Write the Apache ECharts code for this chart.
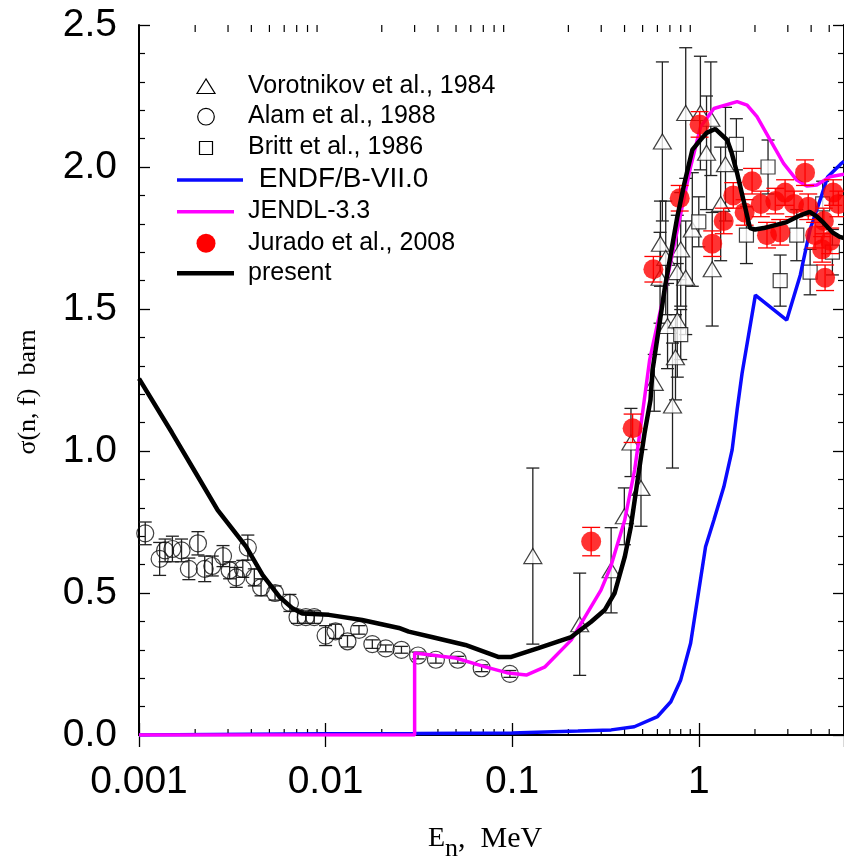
<!DOCTYPE html>
<html><head><meta charset="utf-8">
<script src="https://cdn.jsdelivr.net/npm/echarts@6.0.0/dist/echarts.min.js"></script>
<style>html,body{margin:0;padding:0;background:#fff}#c{width:844px;height:864px}</style>
</head><body><div id="c"></div>
<script>
// ---- tick labels ----
const xTickLabels = ['0.001', '0.01', '0.1', '1'];
const yTickLabels = ['0.0', '0.5', '1.0', '1.5', '2.0', '2.5'];
const xMinorTicks = [0.002,0.003,0.004,0.005,0.006,0.007,0.008,0.009,
  0.02,0.03,0.04,0.05,0.06,0.07,0.08,0.09,
  0.2,0.3,0.4,0.5,0.6,0.7,0.8,0.9,
  2,3,4,5];

// ---- present (black) ----
const presentE = [0.001,0.0015,0.002,0.00264,0.00375,0.0046,0.00565,0.00665,0.0075,0.0104,0.0157,0.0247,0.0279,0.037,0.0561,0.0841,0.0989,0.138,0.207,0.264,0.313,0.354,0.401,0.432,0.47,0.512,0.551,0.565,0.61,0.655,0.767,0.838,0.923,1.019,1.1,1.225,1.419,1.5,1.604,1.77,1.88,2.0,2.23,2.96,3.5,3.93,4.3,4.67,5.2,5.69,6];
const presentS = [1.255,1.065,0.926,0.792,0.663,0.563,0.487,0.446,0.428,0.423,0.405,0.377,0.364,0.345,0.317,0.275,0.275,0.306,0.345,0.398,0.44,0.5,0.627,0.732,0.898,1.063,1.18,1.285,1.43,1.567,1.824,1.944,2.06,2.095,2.12,2.134,2.095,2.05,1.979,1.859,1.785,1.78,1.785,1.806,1.83,1.842,1.825,1.803,1.77,1.754,1.75];

// ---- JENDL-3.3 (magenta) ----
const jendlE = [0.001,0.03,0.03,0.0497,0.0718,0.0953,0.119,0.15,0.207,0.299,0.337,0.401,0.453,0.488,0.545,0.652,0.767,0.904,1.023,1.205,1.604,1.815,2.05,2.415,2.845,3.35,3.79,4.29,5.05,6];
const jendlS = [0,0,0.289,0.271,0.24,0.218,0.211,0.24,0.334,0.51,0.592,0.757,0.933,1.085,1.32,1.555,1.778,2.001,2.142,2.206,2.23,2.218,2.177,2.095,2.013,1.954,1.933,1.937,1.966,1.975];

// ---- ENDF/B-VII.0 (blue) ----
const endfE = [0.001,0.01,0.03,0.1,0.225,0.339,0.451,0.601,0.708,0.8,0.904,0.982,1.087,1.205,1.362,1.509,1.604,1.706,2.01,2.96,3.5,3.94,4.5,4.9,5.75,6];
const endfS = [0.0,0.004,0.005,0.007,0.014,0.018,0.029,0.065,0.117,0.194,0.323,0.475,0.663,0.757,0.874,1.004,1.144,1.274,1.549,1.461,1.62,1.778,1.89,1.965,2.01,2.02];

// ---- Alam et al., 1988 (open circles) ----
const alamE = [0.00108,0.00129,0.00138,0.00151,0.00169,0.00185,0.00207,0.00225,0.00247,0.00282,0.00306,0.00332,0.0036,0.00383,0.00415,0.00451,0.00536,0.00644,0.00707,0.00784,0.00869,0.01,0.0113,0.0131,0.0151,0.0178,0.021,0.0255,0.0313,0.039,0.0511,0.0686,0.0972];
const alamS = [0.71,0.62,0.65,0.655,0.65,0.585,0.675,0.585,0.595,0.63,0.58,0.555,0.585,0.66,0.555,0.52,0.5,0.465,0.415,0.415,0.415,0.35,0.365,0.33,0.37,0.32,0.305,0.3,0.28,0.265,0.265,0.235,0.215];
const alamErr = [0.04,0.058,0.04,0.045,0.04,0.038,0.041,0.045,0.035,0.037,0.03,0.035,0.03,0.044,0.03,0.03,0.025,0.03,0.022,0.022,0.022,0.035,0.025,0.02,0.015,0.015,0.012,0.012,0.012,0.012,0.012,0.012,0.012];

// ---- Vorotnikov et al., 1984 (open triangles) ----
const vorE = [0.129,0.23,0.339,0.399,0.433,0.49,0.577,0.62,0.623,0.638,0.665,0.68,0.723,0.75,0.767,0.767,0.8,0.851,0.851,0.923,1.02,1.1,1.16,1.18,1.31,1.39];
const vorS = [0.63,0.39,0.58,0.77,1.03,0.87,1.24,1.61,1.73,2.09,1.68,1.44,1.16,1.33,1.63,1.46,1.71,2.19,1.61,1.78,2.19,2.05,2.17,1.64,1.87,2.01];
const vorErr = [0.31,0.18,0.15,0.10,0.12,0.135,0.10,0.16,0.15,0.28,0.20,0.15,0.22,0.15,0.20,0.20,0.20,0.23,0.20,0.20,0.20,0.20,0.20,0.20,0.20,0.20];

// ---- Britt et al., 1986 (open squares) ----
const brittE = [0.8,1.0,1.59,1.8,2.35,2.73,3.35,3.95,4.61,5.2];
const brittS = [1.41,1.807,2.08,1.76,2.0,1.60,1.76,1.63,1.87,1.70];
const brittErr = [0.088,0.088,0.09,0.1,0.095,0.09,0.09,0.08,0.08,0.08];

// ---- Jurado et al., 2008 (red filled circles) ----
const jurE = [0.265,0.442,0.571,0.79,1.01,1.18,1.36,1.53,1.76,1.93,2.15,2.32,2.57,2.73,2.9,3.24,3.71,3.86,4.2,4.58,4.68,4.75,5.06,5.25,5.6];
const jurS = [0.681,1.08,1.64,1.89,2.15,1.73,1.81,1.90,1.84,1.95,1.87,1.76,1.88,1.77,1.91,1.87,1.98,1.86,1.76,1.71,1.81,1.61,1.74,1.91,1.87];
const jurErr = [0.05,0.05,0.045,0.045,0.045,0.045,0.045,0.045,0.045,0.045,0.045,0.045,0.045,0.045,0.045,0.045,0.045,0.045,0.045,0.045,0.045,0.045,0.045,0.045,0.045];

const pairs = (a, b) => a.map((v, i) => [v, b[i]]);
const triples = (a, b, c) => a.map((v, i) => [v, b[i], c[i]]);

function errSeries(data, cap, color, z) {
  return {
    type: 'custom', data: data, z: z, silent: true, clip: true,
    encode: { x: 0, y: 1 },
    renderItem: function (params, api) {
      const x = api.value(0), y = api.value(1), e = api.value(2);
      const p0 = api.coord([x, y - e]), p1 = api.coord([x, y + e]);
      const st = { stroke: color, lineWidth: 1.3 };
      return { type: 'group', children: [
        { type: 'line', shape: { x1: p0[0], y1: p0[1], x2: p1[0], y2: p1[1] }, style: st },
        { type: 'line', shape: { x1: p0[0] - cap, y1: p0[1], x2: p0[0] + cap, y2: p0[1] }, style: st },
        { type: 'line', shape: { x1: p1[0] - cap, y1: p1[1], x2: p1[0] + cap, y2: p1[1] }, style: st }
      ]};
    }
  };
}

const SANS = 'Liberation Sans';
const SERIF = 'Liberation Serif';
const chart = echarts.init(document.getElementById('c'), null, { renderer: 'canvas' });

const axisLine = { show: true, lineStyle: { color: '#000', width: 2 } };
const xLabelFmt = function (v) {
  const l = Math.log10(v); const k = Math.round(l);
  if (Math.abs(l - k) < 1e-6 && k + 3 >= 0 && k + 3 < xTickLabels.length) return xTickLabels[k + 3];
  return '';
};

const legendRows = [86.7, 116.7, 148, 180, 211.7, 243.3, 273.3];
const legendText = ['Vorotnikov et al., 1984', 'Alam et al., 1988', 'Britt et al., 1986', ' ENDF/B-VII.0', 'JENDL-3.3', 'Jurado et al., 2008', 'present'];

const graphics = [];
legendText.forEach(function (t, i) {
  graphics.push({ type: 'text', left: i === 3 ? 251 : 248, top: legendRows[i] - (i === 3 ? 15 : 13), z: 100,
    style: { text: t, font: (i === 3 ? '28px ' : '25px ') + SANS, fill: '#000' } });
});
graphics.push({ type: 'polygon', z: 100, shape: { points: [[206, 79], [197, 93.5], [215, 93.5]] }, style: { fill: '#fff', stroke: '#000', lineWidth: 1.2 } });
graphics.push({ type: 'circle', z: 100, shape: { cx: 206, cy: 116.7, r: 8.3 }, style: { fill: 'none', stroke: '#000', lineWidth: 1.2 } });
graphics.push({ type: 'rect', z: 100, shape: { x: 199.5, y: 141.5, width: 13, height: 13 }, style: { fill: '#fff', stroke: '#000', lineWidth: 1.2 } });
graphics.push({ type: 'line', z: 100, shape: { x1: 177, y1: 180, x2: 243, y2: 180 }, style: { stroke: '#0a0aff', lineWidth: 3.5 } });
graphics.push({ type: 'line', z: 100, shape: { x1: 177, y1: 211.7, x2: 234, y2: 211.7 }, style: { stroke: '#ff00ff', lineWidth: 3.5 } });
graphics.push({ type: 'circle', z: 100, shape: { cx: 206, cy: 243.3, r: 9.5 }, style: { fill: '#ff0000' } });
graphics.push({ type: 'line', z: 100, shape: { x1: 177, y1: 273.3, x2: 234, y2: 273.3 }, style: { stroke: '#000', lineWidth: 4.5 } });
// axis titles
graphics.push({ type: 'text', z: 100, x: 28, y: 392, rotation: Math.PI / 2,
  style: { text: 'σ(n, f)  barn', font: '26px ' + SERIF, fill: '#000', align: 'center', verticalAlign: 'middle' } });
graphics.push({ type: 'text', z: 100, x: 428, y: 839, style: { text: 'E', font: '28px ' + SERIF, fill: '#000', align: 'left', verticalAlign: 'middle' } });
graphics.push({ type: 'text', z: 100, x: 445, y: 849, style: { text: 'n', font: '26px ' + SERIF, fill: '#000', align: 'left', verticalAlign: 'middle' } });
graphics.push({ type: 'text', z: 100, x: 458, y: 839, style: { text: ',  MeV', font: '30px ' + SERIF, fill: '#000', align: 'left', verticalAlign: 'middle' } });

const option = {
  animation: false,
  backgroundColor: '#fff',
  grid: { left: 139, right: -3, top: 25, bottom: 129, containLabel: false },
  xAxis: [
    { type: 'log', logBase: 10, min: 0.001, max: 6, position: 'bottom',
      axisLine: axisLine, splitLine: { show: false },
      axisTick: { show: true, inside: true, length: 12, lineStyle: { color: '#000', width: 1.3 } },
      minorTick: { show: false },
      axisLabel: { show: true, formatter: xLabelFmt, fontFamily: SANS, fontSize: 39, color: '#000', margin: 28, hideOverlap: false, showMinLabel: true, showMaxLabel: false } },
    { type: 'log', logBase: 10, min: 0.001, max: 6, position: 'top',
      axisLine: axisLine, splitLine: { show: false },
      axisTick: { show: true, inside: true, length: 12, lineStyle: { color: '#000', width: 1.3 } },
      axisLabel: { show: false } }
  ],
  yAxis: [
    { type: 'value', min: 0, max: 2.5, interval: 0.5, position: 'left',
      axisLine: axisLine, splitLine: { show: false },
      axisTick: { show: true, inside: true, length: 11, lineStyle: { color: '#000', width: 1.3 } },
      minorTick: { show: true, splitNumber: 5, length: 6, lineStyle: { color: '#000', width: 1.2 } },
      axisLabel: { formatter: function (v) { return yTickLabels[Math.round(v / 0.5)]; }, fontFamily: SANS, fontSize: 39, color: '#000', margin: 22 } },
    { type: 'value', min: 0, max: 2.5, interval: 0.5, position: 'right',
      axisLine: axisLine, splitLine: { show: false },
      axisTick: { show: true, inside: true, length: 11, lineStyle: { color: '#000', width: 1.3 } },
      minorTick: { show: true, splitNumber: 5, length: 6, lineStyle: { color: '#000', width: 1.2 } },
      axisLabel: { show: false } }
  ],
  graphic: graphics,
  series: [
    { type: 'custom', silent: true, z: 1, data: xMinorTicks.map(function (v) { return [v, 0]; }), encode: { x: 0, y: 1 },
      renderItem: function (params, api) {
        const v = api.value(0); const b = api.coord([v, 0]); const t = api.coord([v, 2.5]);
        const st = { stroke: '#000', lineWidth: 1.2 };
        return { type: 'group', children: [
          { type: 'line', shape: { x1: b[0], y1: b[1], x2: b[0], y2: b[1] - 6 }, style: st },
          { type: 'line', shape: { x1: t[0], y1: t[1], x2: t[0], y2: t[1] + 7 }, style: st }
        ]};
      } },
    errSeries(triples(alamE, alamS, alamErr), 6.5, '#222', 2),
    errSeries(triples(vorE, vorS, vorErr), 6.5, '#222', 2),
    errSeries(triples(brittE, brittS, brittErr), 6.5, '#222', 2),
    { type: 'scatter', name: 'Alam et al., 1988', z: 3, data: pairs(alamE, alamS), symbol: 'circle', symbolSize: 17,
      itemStyle: { color: 'rgba(0,0,0,0)', borderColor: '#111', borderWidth: 1.2 } },
    { type: 'scatter', name: 'Vorotnikov et al., 1984', z: 3, data: pairs(vorE, vorS), symbol: 'triangle', symbolSize: [18, 15],
      itemStyle: { color: '#fff', borderColor: '#111', borderWidth: 1.2 } },
    { type: 'scatter', name: 'Britt et al., 1986', z: 3, data: pairs(brittE, brittS), symbol: 'rect', symbolSize: 14,
      itemStyle: { color: '#fff', borderColor: '#111', borderWidth: 1.2 } },
    { type: 'line', name: 'ENDF/B-VII.0', z: 4, data: pairs(endfE, endfS), showSymbol: false, symbol: 'none',
      lineStyle: { color: '#0a0aff', width: 3.5 } },
    { type: 'line', name: 'JENDL-3.3', z: 5, data: pairs(jendlE, jendlS), showSymbol: false, symbol: 'none',
      lineStyle: { color: '#ff00ff', width: 3.5 } },
    errSeries(triples(jurE, jurS, jurErr), 9, '#ff0000', 6),
    { type: 'scatter', name: 'Jurado et al., 2008', z: 6, data: pairs(jurE, jurS), symbol: 'circle', symbolSize: 20,
      itemStyle: { color: '#ff0000' } },
    { type: 'line', name: 'present', z: 7, data: pairs(presentE, presentS), showSymbol: false, symbol: 'none',
      lineStyle: { color: '#000', width: 4.5 } }
  ]
};
chart.setOption(option);
</script></body></html>
